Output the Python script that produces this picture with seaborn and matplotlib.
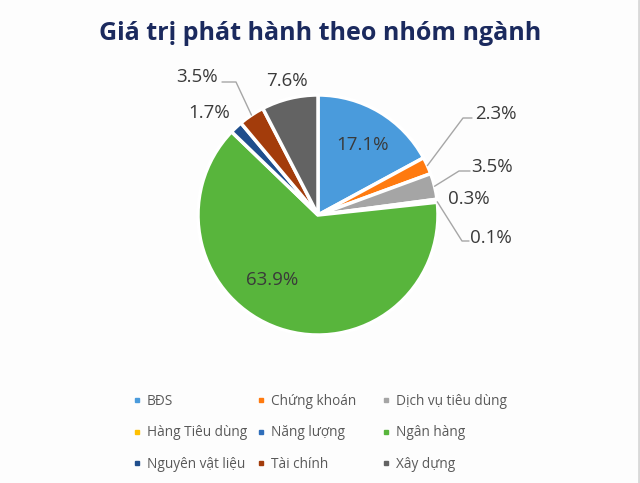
import matplotlib
matplotlib.use('Agg')
import matplotlib.pyplot as plt
import seaborn as sns
import numpy as np
from matplotlib.lines import Line2D

# Data
sectors = ['BĐS', 'Chứng khoán', 'Dịch vụ tiêu dùng', 'Hàng Tiêu dùng', 'Năng lượng',
           'Ngân hàng', 'Nguyên vật liệu', 'Tài chính', 'Xây dựng']
shares = [17.1, 2.3, 3.5, 0.3, 0.1, 63.9, 1.7, 3.5, 7.6]
colors = ['#4A9BDC', '#FF7A0F', '#A5A5A5', '#FFC000', '#2F6EBA',
          '#58B53C', '#1F4E8C', '#A33C0B', '#636363']
title = 'Giá trị phát hành theo nhóm ngành'

sns.set_theme(style='white')
plt.rcParams['font.family'] = ['Open Sans', 'DejaVu Sans']

W, H = 640, 483
fig = plt.figure(figsize=(6.4, 4.83), dpi=100)
fig.patch.set_facecolor('#FDFDFD')
ax = fig.add_axes([0, 0, 1, 1])
ax.set_facecolor('none')


def px(x, y):
    # pixel coords (origin top-left) -> data coords
    return x, H - y


cx, cy = px(318, 215)
R = 120
expl = 0.03
wedges, _ = ax.pie(shares, colors=colors, startangle=90, counterclock=False,
                   center=(cx, cy), radius=R, explode=[expl] * len(shares),
                   wedgeprops=dict(edgecolor='white', linewidth=2.5))
ax.set_xlim(0, W)
ax.set_ylim(0, H)
ax.set_aspect('equal')
ax.axis('off')

# label text positions (pixel) and optional leader elbow/end points
label_pos = [(363, 145), (496, 114), (492, 167), (469, 199), (491, 238),
             (272, 280), (209, 113), (197, 77), (287, 81)]
leaders = {1: [(463, 118), (472, 118)],
           2: [(459, 171), (470, 171)],
           4: [(462, 241), (469, 241)],
           7: [(236, 82), (222, 82)]}

for i, (w, v) in enumerate(zip(wedges, shares)):
    ang = np.deg2rad((w.theta1 + w.theta2) / 2)
    ox, oy = w.center
    x, y = px(*label_pos[i])
    ax.text(x, y, f'{v:.1f}%', ha='center', va='center', fontsize=13.5, color='#3A3A3A')
    if i in leaders:
        sx = ox + R * np.cos(ang)
        sy = oy + R * np.sin(ang)
        pts = [(sx, sy)] + [px(a, b) for a, b in leaders[i]]
        xs, ys = zip(*pts)
        ax.plot(xs, ys, color='#A6A6A6', lw=1)

fig.text(320 / W, 1 - 33 / H, title, ha='center', va='center', fontsize=18,
         fontweight='bold', color='#1B2A5E')

# legend, three fixed-width columns
col_x = [133, 257, 382]
for c in range(3):
    idx = [r * 3 + c for r in range(3)]
    handles = [Line2D([], [], marker='s', ls='', color=colors[k], markersize=3.5) for k in idx]
    fig.legend(handles, [sectors[k] for k in idx], loc='upper left',
               bbox_to_anchor=(col_x[c] / W, 1 - 394 / H), frameon=False,
               fontsize=9.8, labelcolor='#595959', handlelength=0.6,
               handletextpad=0.4, labelspacing=1.2, borderaxespad=0,
               borderpad=0)

fig.add_artist(Line2D([638.5 / W, 638.5 / W], [0, 1], color='#D9D9D9', lw=2,
                      transform=fig.transFigure))

fig.savefig('out.png', dpi=100)
